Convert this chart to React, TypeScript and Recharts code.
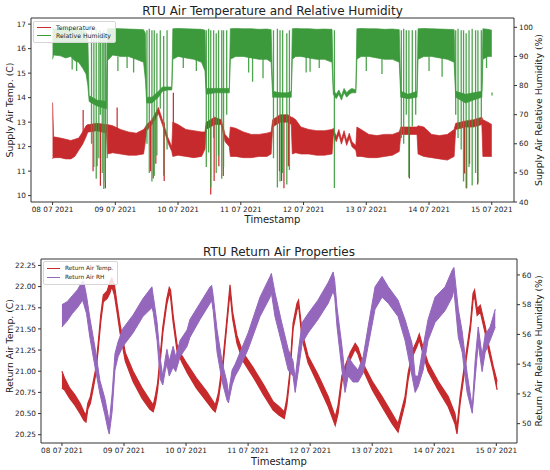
import { ComposedChart, Area, Line, XAxis, YAxis, ReferenceLine } from 'recharts';

const FONT = '"DejaVu Sans", Verdana, sans-serif';
const RED = '#c62a2c';
const GREEN = '#3c9a3c';
const PURPLE = '#9467bd';
const INK = '#222';

// x axis: hours since 08 07 2021 00:00
const dayTicks = [0, 24, 48, 72, 96, 120, 144, 168];
const dayLabels = ['08 07 2021', '09 07 2021', '10 07 2021', '11 07 2021', '12 07 2021', '13 07 2021', '14 07 2021', '15 07 2021'];

// ---- supply air (top chart), band envelopes ----
const supplyHours = [
  0, 0.4, 3, 5, 7, 8.5, 10, 11.5, 12.8, 13.5,
  14, 17, 20.6,
  21, 23, 26, 29, 32, 34.8, 35.5,
  36, 38, 40.5, 42, 44, 45.6,
  46, 48, 51, 54, 57, 58.3,
  58.8, 62, 64.5, 66, 67.6,
  68, 70, 73, 76, 79, 82, 83.6,
  84.2, 87, 90, 91.3,
  91.7, 93, 95, 98, 101, 104, 106.9,
  107.4, 108.5, 109.5, 110.5, 111.5, 112.5, 113.5, 114.5, 116,
  116.4, 118, 121, 124, 127, 130, 132.6,
  133.2, 136, 139.4,
  139.8, 142, 145, 148, 151, 153.6,
  154.2, 158, 161, 164.2,
  164.6, 166.5, 168,
];
const supplyTempLow = [
  11.5, 11.55, 11.55, 11.5, 11.5, 11.6, 11.85, 12.1, 12.4, 12.6,
  12.6, 12.65, 12.55,
  11.7, 11.75, 11.7, 11.65, 11.65, 11.7, 12.2,
  12.65, 12.9, 13.35, 12.9, 12.2, 11.8,
  11.6, 11.65, 11.6, 11.55, 11.6, 11.9,
  12.7, 12.9, 12.9, 12.2, 12.0,
  11.6, 11.6, 11.55, 11.55, 11.6, 11.6, 11.7,
  12.8, 13.0, 13.0, 12.9,
  11.7, 11.75, 11.7, 11.7, 11.65, 11.65, 11.7,
  12.5, 12.2, 12.5, 12.1, 12.45, 12.05, 12.35, 12.0, 11.85,
  11.6, 11.6, 11.55, 11.55, 11.6, 11.65, 11.8,
  12.5, 12.5, 12.5,
  11.7, 11.6, 11.55, 11.5, 11.45, 11.6,
  12.7, 12.8, 12.8, 12.9,
  11.6, 11.6, 11.6,
];
const supplyTempHigh = [
  13.8, 12.4, 12.35, 12.3, 12.25, 12.3, 12.35, 12.6, 12.85, 12.9,
  12.9, 12.95, 12.9,
  12.9, 12.85, 12.7, 12.6, 12.55, 12.7, 12.8,
  12.9, 13.1, 13.6, 13.1, 12.4, 12.0,
  13.0, 12.9, 12.7, 12.65, 12.6, 12.6,
  13.0, 13.2, 13.1, 12.5, 12.3,
  12.8, 12.75, 12.6, 12.5, 12.5, 12.55, 12.6,
  13.1, 13.3, 13.3, 13.2,
  13.2, 13.1, 12.8, 12.7, 12.65, 12.65, 12.7,
  12.75, 12.4, 12.7, 12.3, 12.65, 12.25, 12.55, 12.2, 12.05,
  12.8, 12.7, 12.5, 12.45, 12.5, 12.5, 12.6,
  12.8, 12.8, 12.8,
  12.85, 12.8, 12.5, 12.45, 12.5, 12.7,
  12.95, 13.05, 13.1, 13.2,
  13.1, 13.0, 12.9,
];
const supplyRhLow = [
  89, 90.5, 90.2, 89.5, 90, 88.5, 88, 86, 84, 80,
  74.5, 73, 72,
  88.5, 90.5, 90, 90, 89, 88, 82,
  74, 74, 76, 78, 78.5, 78.5,
  89, 90, 89.5, 89, 88, 85,
  77, 77.5, 77.5, 77.5, 77.5,
  89, 90, 90, 89.5, 89, 89, 88,
  76, 76, 76, 76,
  89, 90, 90, 89.5, 89, 89, 88,
  77, 75.5, 77, 75, 77.5, 76, 77, 77.5, 77.5,
  89, 90, 90, 89.5, 89, 89, 88,
  76, 75.5, 76,
  89, 90, 90, 89.5, 89, 88,
  76, 74, 75, 76,
  89, 90, 90,
];
const supplyRhHigh = [
  99.5, 99.5, 99.3, 99.6, 99.4, 99.2, 99.4, 99, 98.5, 96,
  76.5, 75, 74.5,
  99.5, 99.6, 99.5, 99.4, 99.3, 99.2, 98,
  76, 76, 78, 79.5, 79.5, 79.5,
  99.5, 99.6, 99.5, 99.4, 99.3, 99,
  79, 79, 79, 79, 79,
  99.5, 99.6, 99.5, 99.5, 99.3, 99.4, 99.2,
  78, 77.5, 77.5, 78,
  99.5, 99.6, 99.5, 99.5, 99.3, 99.4, 99.3,
  78.5, 77, 78.5, 76.5, 79, 77.5, 78.5, 79, 78.5,
  99.5, 99.6, 99.5, 99.5, 99.3, 99.4, 99.2,
  78, 77, 78,
  99.5, 99.6, 99.5, 99.4, 99.3, 99.2,
  78, 77, 77.5, 78,
  99.5, 99.3, 99,
];

// ---- supply air spikes (vertical excursions while the unit cycles) ----
const tempSpikeHours = [11.7, 15.5, 17.0, 18.3, 20.2, 24.7, 37.5, 38.5, 39.5, 42.7, 46.2, 60.5, 61.8, 63.6, 65.3, 86.8, 87.6, 88.5, 90.2, 136.5, 157.6, 158.4, 159.5, 162.6];
const tempSpikeLow = [12.3, 11.0, 11.2, 10.4, 10.3, 12.6, 11.0, 10.7, 11.3, 10.6, 12.8, 10.05, 10.6, 11.2, 10.8, 11.0, 10.6, 10.3, 11.2, 10.7, 10.9, 10.3, 11.3, 10.45];
const tempSpikeHigh = [13.5, 12.8, 12.8, 12.8, 12.8, 13.6, 12.9, 13.0, 13.2, 13.0, 14.2, 13.0, 13.1, 13.1, 12.8, 13.2, 13.2, 13.2, 13.2, 12.8, 13.0, 13.0, 13.0, 13.1];

const rhSpikeHours = [
  7.5, 9.2, 14.9, 15.8, 16.7, 17.7, 18.3, 19.0, 19.6, 20.2, 20.9,
  25, 28.5, 31, 36.1, 37.0, 38.0, 38.9, 39.9, 41.2, 42.5, 43.8,
  50, 55, 58.8, 59.7, 60.5, 61.6, 62.6, 63.5, 64.7, 65.4, 66.6,
  75, 76.5, 80.5, 84.5, 86.0, 87.0, 88.0, 89.6, 90.6,
  97, 98.5, 102, 107.8,
  120, 126, 133.4, 134.3, 135.3, 136.3, 137.6, 138.9,
  144, 149, 154.2, 155.1, 156.3, 157.2, 158.2, 159.3, 160.5, 161.8, 162.7, 164.0,
  166, 168.1,
];
const rhSpikeLow = [
  85.5, 85, 60, 52, 48, 55, 70, 50, 44.5, 47, 55,
  85, 86, 84.5, 60, 50, 47, 49, 56, 72, 49, 58,
  86, 85, 52, 57, 45, 62, 50, 56, 48, 52, 70,
  84.5, 81.3, 82.5, 55, 45, 47, 50, 46, 51,
  84.5, 84.7, 86, 44.8,
  85, 84, 62, 60, 70, 48.5, 66, 70,
  85, 83, 70, 62, 58, 47, 44.7, 52, 45.7, 50, 46.5, 68,
  86, 76.6,
];
const rhSpikeHigh = [
  90, 90, 99, 98, 99.5, 99, 99, 97, 99, 98, 99,
  90, 90, 90, 99, 99.5, 99, 99, 98, 99, 97, 99,
  90, 90, 99, 99.5, 99, 99, 98, 99, 99, 99, 99,
  90, 90, 90, 99, 99.5, 99, 99, 98, 99,
  90, 90, 90, 99,
  90, 90, 99, 99.5, 99, 99, 99, 99,
  90, 90, 99, 99.5, 99, 99, 98, 99, 99.5, 99, 99, 99,
  90, 77.6,
];

// ---- return air (bottom chart) ----
const returnTempHours = [
  0, 1, 3, 5, 7, 8.5, 9.3, 10, 11, 12, 13, 14, 15, 16, 17.5, 18.5, 19.3, 20.3, 21.3, 22.5,
  24.5, 27.5, 31, 34, 35.3, 36.2, 37, 38, 39, 40.5, 41.5, 42, 43, 44.5, 46.5,
  48.5, 52, 56, 58.5, 59.3, 60.5, 62.3, 63.8, 65, 66, 67.7, 70,
  74, 78, 81.7, 84, 86, 87, 88, 89.4, 90.9, 91.5, 92.9, 95.2,
  99, 103, 105.7, 106.8, 108.3, 109.5, 111.5, 113.4, 114.5, 116, 117.3,
  120, 123.8, 127.7, 130, 132.7, 133.9, 135.8, 137.4, 138.2, 139.7, 141.6,
  145.5, 149.4, 152, 152.8, 154, 156, 158, 159, 159.6, 160.6, 161.8, 163.7, 164.9, 166.8, 168.3,
];
const returnTempLow = [
  20.80, 20.78, 20.68, 20.60, 20.50, 20.42, 20.40, 20.55, 20.62, 20.78, 20.95, 21.25, 21.58, 21.82, 21.86, 21.92, 22.00, 21.90, 21.70, 21.45,
  21.12, 20.88, 20.68, 20.55, 20.52, 20.62, 20.78, 21.10, 21.45, 21.78, 21.92, 21.88, 21.58, 21.24, 21.10,
  20.98, 20.80, 20.64, 20.54, 20.52, 20.66, 21.06, 21.55, 21.94, 21.62, 21.33, 21.12,
  20.93, 20.72, 20.54, 20.48, 20.44, 20.60, 20.88, 21.50, 21.72, 21.78, 21.38, 21.10,
  20.85, 20.58, 20.36, 20.50, 20.88, 20.98, 21.14, 21.26, 21.20, 21.06, 20.96,
  20.78, 20.58, 20.38, 20.28, 20.62, 20.90, 21.19, 21.30, 21.37, 21.20, 21.00,
  20.78, 20.58, 20.38, 20.26, 20.62, 21.06, 21.50, 21.84, 21.88, 21.66, 21.70, 21.45, 21.25, 21.00, 20.78,
];
const returnTempHigh = [
  21.00, 20.92, 20.80, 20.72, 20.62, 20.52, 20.48, 20.62, 20.70, 20.86, 21.02, 21.32, 21.66, 21.90, 21.95, 22.05, 22.10, 22.02, 21.80, 21.55,
  21.22, 21.00, 20.80, 20.66, 20.60, 20.72, 20.86, 21.18, 21.52, 21.85, 21.99, 21.96, 21.66, 21.32, 21.18,
  21.08, 20.92, 20.76, 20.64, 20.60, 20.74, 21.14, 21.62, 22.02, 21.70, 21.42, 21.22,
  21.04, 20.84, 20.64, 20.58, 20.52, 20.68, 20.95, 21.57, 21.80, 21.84, 21.46, 21.18,
  20.96, 20.70, 20.46, 20.60, 20.95, 21.06, 21.22, 21.33, 21.28, 21.14, 21.04,
  20.88, 20.70, 20.50, 20.38, 20.70, 20.98, 21.26, 21.37, 21.44, 21.28, 21.10,
  20.88, 20.70, 20.50, 20.34, 20.70, 21.14, 21.57, 21.92, 21.96, 21.74, 21.78, 21.53, 21.33, 21.06, 20.88,
];

const returnRhHours = [
  0, 2, 4, 6, 8, 8.5, 9.5, 10.8, 12.8, 14.7, 16.6, 17.8, 18.3, 19.4, 20.5, 21.7, 23.6,
  27.5, 31.3, 34.8, 35.3, 36.8, 38, 39, 40, 40.6, 41.5, 43, 44, 45.7,
  48.4, 49.5, 53.4, 57.3, 57.9, 58.5, 60, 62, 63.8, 64.4, 65.8, 67, 68.9,
  72, 76.6, 80.5, 81, 82.4, 85, 87.5, 89.4, 90.2, 91.3, 92.9, 95.2,
  99, 103, 104.9, 105.5, 106.4, 108.3, 109.5, 110.7, 112.6, 114.5, 116.5, 118.4,
  121.1, 123.8, 126.2, 130, 132.7, 135.4, 136.6, 137.8, 139.7, 141.6,
  144.3, 148.2, 150.9, 151.6, 153.3, 154.8, 156.7, 158.7, 159.8, 161, 162.5, 163.7, 165.6, 167.6,
];
const returnRhLow = [
  56.5, 56.9, 57.4, 57.8, 58.3, 58.0, 57.4, 55.8, 53.8, 52.0, 50.6, 49.6, 49.3, 50.8, 53.6, 54.5, 55.2,
  56.1, 57.2, 57.8, 57.5, 55.6, 53.0, 52.6, 53.6, 54.0, 53.2, 53.8, 53.5, 54.5,
  55.2, 55.8, 57.0, 58.1, 58.3, 57.6, 54.8, 52.8, 51.6, 51.4, 52.6, 53.2, 53.8,
  55.0, 57.2, 58.5, 58.8, 57.2, 55.4, 53.6, 53.2, 52.1, 53.4, 55.4, 56.1,
  57.0, 58.1, 58.9, 58.5, 56.5, 53.6, 52.1, 53.2, 52.8, 52.8, 53.4, 55.2,
  57.7, 58.5, 58.1, 57.2, 55.6, 53.2, 52.1, 52.5, 53.6, 55.6,
  56.8, 57.6, 58.5, 59.0, 55.8, 54.8, 52.1, 50.7, 53.0, 55.4, 53.5, 54.8, 55.6, 56.5,
];
const returnRhHigh = [
  58.0, 58.2, 58.6, 59.0, 59.6, 59.5, 58.6, 57.1, 55.1, 52.9, 51.7, 50.6, 50.0, 52.0, 54.7, 55.5, 56.4,
  57.3, 58.4, 59.2, 58.6, 56.8, 54.4, 53.2, 54.4, 55.0, 54.2, 55.2, 54.5, 55.6,
  56.3, 57.0, 58.1, 59.2, 59.3, 58.6, 56.3, 54.1, 52.8, 52.0, 53.6, 54.0, 54.8,
  56.1, 58.5, 59.9, 60.1, 58.8, 56.8, 55.0, 54.2, 53.0, 54.7, 56.8, 57.4,
  58.3, 59.5, 60.2, 59.6, 57.8, 55.2, 53.2, 54.5, 54.0, 53.6, 54.5, 56.5,
  59.2, 59.9, 59.2, 58.3, 57.0, 55.4, 53.2, 53.2, 55.2, 57.0,
  58.5, 59.2, 60.3, 60.5, 57.7, 56.2, 53.4, 51.1, 54.2, 56.5, 54.6, 56.0, 56.5, 57.7,
];

const supplyTempTicks = [10, 11, 12, 13, 14, 15, 16, 17];
const supplyRhTicks = [40, 50, 60, 70, 80, 90, 100];
const returnTempTicks = [20.25, 20.5, 20.75, 21, 21.25, 21.5, 21.75, 22, 22.25];
const returnRhTicks = [50, 52, 54, 56, 58, 60];

const supplyLegend = [
  { name: 'Temperature', color: RED },
  { name: 'Relative Humidity', color: GREEN },
];
const returnLegend = [
  { name: 'Return Air Temp.', color: RED },
  { name: 'Return Air RH', color: PURPLE },
];

const supplyRows = supplyHours.map((h, i) => ({
  h,
  temp: [supplyTempLow[i], supplyTempHigh[i]],
  rh: [supplyRhLow[i], supplyRhHigh[i]],
}));
const returnTempRows = returnTempHours.map((h, i) => ({ h, v: [returnTempLow[i], returnTempHigh[i]] }));
const returnRhRows = returnRhHours.map((h, i) => ({ h, v: [returnRhLow[i], returnRhHigh[i]] }));

// each spike becomes its own vertical segment (null breaks the line)
function spikeRows(hours: number[], low: number[], high: number[]) {
  return hours.flatMap((h, i) => [
    { h, v: high[i] },
    { h, v: low[i] },
    { h, v: null },
  ]);
}
const tempSpikes = spikeRows(tempSpikeHours, tempSpikeLow, tempSpikeHigh);
const rhSpikes = spikeRows(rhSpikeHours, rhSpikeLow, rhSpikeHigh);

const dayTick = (v: number) => dayLabels[dayTicks.indexOf(v)] ?? '';
const tickStyle = { fontSize: 7.3, fill: INK, fontFamily: FONT };

function Text({ x, y, size, rotate, children }: { x: number; y: number; size: number; rotate?: boolean; children: string }) {
  return (
    <div
      style={{
        position: 'absolute',
        left: x,
        top: y,
        transform: `translate(-50%, -50%)${rotate ? ' rotate(-90deg)' : ''}`,
        whiteSpace: 'nowrap',
        fontFamily: FONT,
        fontSize: size,
        color: INK,
        lineHeight: 1,
      }}
    >
      {children}
    </div>
  );
}

function LegendBox({ x, y, size, row, line, items }: { x: number; y: number; size: number; row: number; line: number; items: { name: string; color: string }[] }) {
  return (
    <div
      style={{
        position: 'absolute',
        left: x,
        top: y,
        padding: '1.5px 4px 2px 3px',
        background: 'rgba(255,255,255,0.85)',
        border: '1px solid #d6d6d6',
        borderRadius: 2,
        fontFamily: FONT,
        fontSize: size,
        color: INK,
      }}
    >
      {items.map((it) => (
        <div key={it.name} style={{ display: 'flex', alignItems: 'center', height: row }}>
          <span style={{ display: 'inline-block', width: line, borderTop: `1.3px solid ${it.color}`, marginRight: 5 }} />
          {it.name}
        </div>
      ))}
    </div>
  );
}

export default function App() {
  return (
    <div style={{ position: 'absolute', left: 0, top: 0, width: 550, height: 470, background: '#fff', overflow: 'hidden' }}>
      <div style={{ position: 'absolute', left: 0, top: 0 }}>
        <ComposedChart width={550} height={230} data={supplyRows} margin={{ top: 18, right: 0, bottom: 0, left: 0 }}>
          <XAxis
            dataKey="h"
            type="number"
            domain={[-8.25, 176.5]}
            allowDataOverflow
            ticks={dayTicks}
            interval={0}
            tickFormatter={dayTick}
            tick={tickStyle}
            tickSize={3}
            tickMargin={2}
            height={28}
            stroke="#333"
          />
          <YAxis yAxisId="temp" domain={[9.74, 17.25]} allowDataOverflow ticks={supplyTempTicks} interval={0} width={31} tick={tickStyle} tickSize={3} tickMargin={2} stroke="#333" />
          <YAxis yAxisId="rh" orientation="right" domain={[40, 103.2]} allowDataOverflow ticks={supplyRhTicks} interval={0} width={36} tick={tickStyle} tickSize={3} tickMargin={2} stroke="#333" />
          <Area yAxisId="temp" dataKey="temp" type="linear" fill={RED} fillOpacity={1} stroke={RED} strokeWidth={0.7} dot={false} activeDot={false} isAnimationActive={false} />
          <Line yAxisId="temp" data={tempSpikes} dataKey="v" type="linear" stroke={RED} strokeWidth={1.2} dot={false} activeDot={false} legendType="none" isAnimationActive={false} />
          <Area yAxisId="rh" dataKey="rh" type="linear" fill={GREEN} fillOpacity={1} stroke={GREEN} strokeWidth={0.7} dot={false} activeDot={false} isAnimationActive={false} />
          <Line yAxisId="rh" data={rhSpikes} dataKey="v" type="linear" stroke={GREEN} strokeOpacity={0.9} strokeWidth={1.3} dot={false} activeDot={false} legendType="none" isAnimationActive={false} />
          <ReferenceLine yAxisId="temp" y={17.25} stroke="#333" />
        </ComposedChart>
      </div>

      <div style={{ position: 'absolute', left: 0, top: 230 }}>
        <ComposedChart width={550} height={240} margin={{ top: 29, right: 0, bottom: 0, left: 0 }}>
          <XAxis
            dataKey="h"
            type="number"
            domain={[-8.1, 176]}
            allowDataOverflow
            ticks={dayTicks}
            interval={0}
            tickFormatter={dayTick}
            tick={tickStyle}
            tickSize={3}
            tickMargin={2}
            height={27}
            stroke="#333"
          />
          <YAxis yAxisId="temp" domain={[20.152, 22.326]} allowDataOverflow ticks={returnTempTicks} interval={0} tickFormatter={(v: number) => v.toFixed(2)} width={41} tick={tickStyle} tickSize={3} tickMargin={2} stroke="#333" />
          <YAxis yAxisId="rh" orientation="right" domain={[48.7, 61.07]} allowDataOverflow ticks={returnRhTicks} interval={0} width={33} tick={tickStyle} tickSize={3} tickMargin={2} stroke="#333" />
          <Area yAxisId="temp" data={returnTempRows} dataKey="v" type="linear" fill={RED} fillOpacity={1} stroke={RED} strokeWidth={1.2} dot={false} activeDot={false} isAnimationActive={false} />
          <Area yAxisId="rh" data={returnRhRows} dataKey="v" type="linear" fill={PURPLE} fillOpacity={1} stroke={PURPLE} strokeWidth={1} dot={false} activeDot={false} isAnimationActive={false} />
          <ReferenceLine yAxisId="temp" y={22.326} stroke="#333" />
        </ComposedChart>
      </div>

      <Text x={272.5} y={11} size={12}>RTU Air Temperature and Relative Humidity</Text>
      <Text x={272.5} y={220} size={10}>Timestamp</Text>
      <Text x={10} y={110} size={9.3} rotate>Supply Air Temp. (C)</Text>
      <Text x={539} y={110} size={9.3} rotate>Supply Air Relative Humidity (%)</Text>
      <LegendBox x={33} y={21} size={6.2} row={8.3} line={14} items={supplyLegend} />

      <Text x={279} y={252} size={12}>RTU Return Air Properties</Text>
      <Text x={279} y={462} size={10}>Timestamp</Text>
      <Text x={10} y={346} size={9.3} rotate>Return Air Temp. (C)</Text>
      <Text x={539} y={351} size={9.3} rotate>Return Air Relative Humidity (%)</Text>
      <LegendBox x={43} y={261} size={5.8} row={9} line={13} items={returnLegend} />
    </div>
  );
}
